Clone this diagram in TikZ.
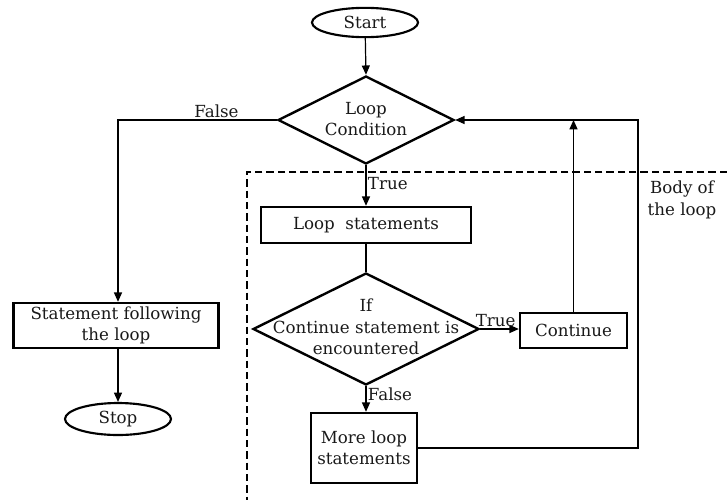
\documentclass[tikz,border=0pt]{standalone}
\usepackage{fontspec}
\setmainfont{DejaVu Serif}
\usetikzlibrary{shapes.geometric,arrows.meta}
\begin{document}
\begin{tikzpicture}[x=0.75pt,y=-0.75pt,
  every node/.style={font=\fontsize{12.5}{16}\selectfont, text=black!90},
  term/.style={ellipse, draw, line width=1.6pt, inner sep=0pt},
  procbox/.style={rectangle, draw, line width=1.8pt, inner sep=0pt, align=center},
  decision/.style={diamond, draw, line width=1.8pt, inner sep=0pt},
  conn/.style={line width=0.9pt},
  arr/.style={conn, -{Triangle[length=7pt,width=6pt]}},
  lbl/.style={inner sep=1pt},
  bodyline/.style={line width=2.1pt, dash pattern=on 5.5pt off 3pt}
]
\useasboundingbox (0,0) rectangle (727,500);

% dashed body boundary
\coordinate (dR) at (727,172);
\coordinate (dB) at (247,500);
\draw[bodyline] (dR) -| (dB);

\node[term, minimum width=79.5pt, minimum height=22pt] (start) at (365,22.5) {Start};
\node[decision, minimum width=132pt, minimum height=66pt] (d1) at (366,120) {};
\node[align=center] (d1t) at (366,119) {Loop\\Condition};

\node[procbox, minimum width=153.75pt, minimum height=33.75pt] (stmt) at (116,325.5) {Statement following\\the loop};
\node[term, minimum width=79.5pt, minimum height=24pt] (stop) at (118,419) {Stop};

\node[procbox, minimum width=157.5pt, minimum height=27pt] (loop) at (366,225) {Loop\ \ statements};
\node[decision, minimum width=169.5pt, minimum height=84pt] (d2) at (366,329) {};
\node[align=center] (d2t) at (366,327) {If\\Continue statement is\\encountered};

\node[procbox, minimum width=80.25pt, minimum height=26.25pt] (cont) at (573.5,330.5) {Continue};
\node[procbox, minimum width=79.5pt, minimum height=52.5pt] (more) at (364,448) {More loop\\statements};

\node[align=center] (body) at (682,200) {Body of\\the loop};

\coordinate (rc) at (638,120);

% connectors
\draw[arr] (start) -- (d1.north);
\draw[arr] (d1.west) -| node[lbl, pos=0.19, above] (lf) {False} (stmt.north -| stop.north);
\draw[arr] (d1.south) -- node[lbl, pos=0.45, right] (lt) {True} (loop.north);
\draw[conn] (loop.south) -- (d2.north);
\draw[arr] (d2.east) -- node[lbl, pos=0.4, above] (ct) {True} (cont.west |- d2.east);
\draw[arr] (d2.south) -- node[lbl, pos=0.3, right] (cf) {False} (more.north -| d2.south);
\draw[arr] (stmt.south -| stop.north) -- (stop.north);
\draw[arr] (more.east) -| (rc) -- (d1.east);
\draw[arr] (cont.north) -- (cont.north |- rc);
\end{tikzpicture}
\end{document}
